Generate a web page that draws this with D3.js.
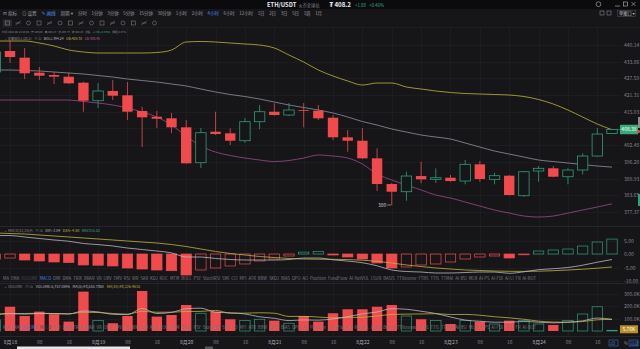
<!DOCTYPE html>
<html><head><meta charset="utf-8">
<script src="https://cdn.jsdelivr.net/npm/d3@7/dist/d3.min.js"></script>
<style>
html,body{margin:0;padding:0;background:#151518;overflow:hidden;}
svg{display:block;}
text{font-family:"Noto Sans CJK SC","Noto Sans","DejaVu Sans",sans-serif;}
</style></head><body>
<svg id="chart" width="640" height="349"></svg>
<script>
// ---------------- data (index -1 .. 41, 4h candles, 2020-08-17 20:00 .. 2020-08-24 20:00) ----------------
const candleIndex = d3.range(-1, 42);
const opens  = [429.99,437.88,435.37,429.73,428.86,428.22,425.97,419.20,422.85,421.23,415.33,413.18,412.58,409.20,395.89,407.55,406.94,404.16,411.31,415.06,413.82,415.70,415.44,412.81,405.44,404.16,397.55,387.88,384.99,390.89,389.65,390.25,389.01,395.29,389.65,391.01,383.49,392.77,393.79,390.63,393.15,398.41,406.89];
const highs  = [439.01,442.02,439.01,431.87,429.99,429.73,426.34,425.85,426.98,426.23,416.94,415.33,414.58,411.94,408.94,415.06,408.82,412.70,417.58,418.22,418.34,418.34,417.58,413.82,408.19,408.94,401.30,388.26,392.51,396.27,393.79,391.27,396.91,396.53,392.13,391.27,392.77,394.65,394.65,393.79,399.43,408.94,408.40];
const lows   = [426.98,433.37,427.36,426.98,425.48,425.50,415.06,416.46,419.46,411.94,401.79,408.94,407.06,395.50,393.90,406.31,402.55,403.41,408.45,413.60,413.45,409.20,411.94,404.43,400.03,397.30,385.25,380.00,381.61,388.15,388.26,388.75,387.77,388.75,387.77,383.60,383.11,388.75,390.40,387.77,391.53,398.20,406.77];
const closes = [437.51,435.63,429.50,428.60,428.22,425.74,419.20,422.85,421.08,415.06,412.96,412.43,409.20,395.67,407.17,406.68,404.16,411.31,415.06,413.82,415.70,415.44,412.58,405.44,404.16,397.55,387.88,384.99,390.89,389.65,390.25,389.01,395.29,389.76,391.01,383.75,392.51,393.79,390.63,393.15,398.41,406.68,408.38];
const bollMid = [430.74,430.74,430.55,430.37,429.99,429.61,429.24,428.67,428.11,427.36,426.79,426.23,425.48,424.73,423.60,422.47,421.53,420.78,419.84,418.71,417.58,416.64,415.70,414.58,413.07,411.38,410.06,408.56,407.43,406.31,405.55,404.80,403.30,401.79,400.29,399.16,398.03,396.91,396.34,395.78,395.22,394.65,394.24];
const bollUp  = [441.64,441.64,441.64,440.89,439.76,438.26,437.51,437.13,437.13,437.13,437.13,437.32,438.26,441.27,441.46,441.27,440.89,440.52,440.14,439.01,436.38,433.75,430.74,428.49,426.61,425.10,425.85,425.85,424.35,423.60,422.85,422.28,421.91,421.72,421.53,421.34,420.78,419.65,417.96,415.70,413.07,410.44,408.30];
const bollLow = [419.46,419.46,419.46,419.46,419.46,419.46,418.90,418.34,417.58,416.46,414.95,413.07,410.06,405.93,402.17,399.91,398.60,397.66,396.91,396.34,396.72,397.66,398.79,398.41,397.66,395.40,391.64,389.39,387.51,385.63,383.75,382.62,381.12,379.61,378.11,376.98,375.85,375.48,375.85,376.98,378.11,379.24,380.45];
const macdHist = [-1.9,-1.5,-2.22,-2.59,-2.96,-3.15,-4.07,-4.15,-4.44,-5.19,-5.56,-5.93,-6.19,-7.78,-5.93,-5.19,-4.44,-3.70,-2.59,-1.85,-0.74,0.7,0.9,-0.37,-1.11,-1.85,-3.33,-5.19,-4.81,-4.07,-3.70,-2.96,-1.85,-1.11,-0.74,-1.48,-0.3,1.11,1.48,1.85,2.96,4.44,5.52];
const macdDif  = [6.83,6.84,6.30,5.74,5.19,4.72,3.89,3.48,2.97,2.21,1.66,1.10,0.42,-1.11,-1.12,-1.67,-2.03,-2.22,-2.23,-2.23,-2.04,-1.50,-1.48,-2.15,-2.63,-3.23,-4.37,-5.93,-6.48,-6.67,-7.04,-7.04,-6.86,-6.67,-6.67,-7.15,-6.59,-5.81,-5.45,-5.00,-4.15,-3.04,-2.04];
const macdDea  = [7.78,7.59,7.41,7.04,6.67,6.30,5.93,5.56,5.19,4.81,4.44,4.07,3.52,2.78,1.85,0.93,0.19,-0.37,-0.93,-1.30,-1.67,-1.85,-1.93,-1.96,-2.07,-2.30,-2.70,-3.33,-4.07,-4.63,-5.19,-5.56,-5.93,-6.11,-6.30,-6.41,-6.44,-6.37,-6.19,-5.93,-5.63,-5.26,-4.80];
const volumes  = [90,194,120,155,134,75,315,83,62,120,320,115,128,208,142,155,94,83,94,83,62,120,75,142,174,174,194,208,120,94,83,56,83,75,56,83,83,56,48,83,136,194,5.76];
const volMa5   = [130,140,135,140,138.6,135.6,159.8,152.4,133.8,131,180,140,149,178.2,182.6,149.6,145.4,136.4,113.6,101.8,83.2,88.4,86.8,96.4,114.6,137,151.8,178.4,174,158,139.8,112.2,87.2,78.2,70.6,70.6,76,70.6,65.2,70.6,81.2,103.4,93.5];
const volMa10  = [135,138,140,142,140,138,150,148,140,134.8,157.8,149.9,150.7,156,156.8,164.8,142.7,142.7,145.9,142.2,116.4,116.9,111.6,105,108.2,110.1,120.1,132.6,135.2,136.3,138.4,132,132.8,126.1,114.3,105.2,94.1,78.9,71.7,70.6,75.9,89.7,93.2];

const priceTicks = [440.14,433.86,427.59,421.31,415.03,408.76,402.48,396.20,389.93,383.65,377.37];
const macdTicks = [5,0,-5,-10];
const macdTickLabels = ["5.00","0.00","-5.00","-10.00"];
const volTicks = [300,200,100];
const volTickLabels = ["300.0K","200.0K","100.0K"];
const timeTickIndex = d3.range(0,41,2);
const timeLabels = ["8月18","08","16","8月19","08","16","8月20","08","16","8月21","08","16","8月22","08","16","8月23","08","16","8月24","08","16"];
const periods = ["分时","1分钟","3分钟","5分钟","15分钟","30分钟","1小时","2小时","4小时","6小时","12小时","1日","2日","3日","5日","1周","1月"];
const activePeriod = "4小时";
const indicators = ["MA","EMA","VOLUME","MACD","DMI","DMA","TRIX","BRAR","VR","OBV","EMV","RSI","WR","SAR","KDJ","ROC","MTM","BOLL","PSY","StochRSI","SMI","CCI","MFI","ATR","BBW","SKDJ","BIAS","DPO","AO","Position","FundFlow","AI-NetVOL","LSUR","BASIS","TTVolume","FTBS","TTIS","TTMAI","AI-BSI","MLB","AI-PS","AI-FDI","AI-LI","FR","AI-BOT"];
const lastPrice = 408.38;
const headerPrice = "408.2";
const lowMarkLabel = "380";

// ---------------- styles ----------------
const BG="#161619", BAR="#0b0b0d", GRID="#222227", TXT="#85858f", RED="#f04a4c", GREEN="#2f9e78",
      YEL="#c2b23c", MID="#8f909e", PUR="#9c4a8c", WHITE="#b9b9c2", BLUE="#3f7fe0";
const LATIN='"Noto Sans","DejaVu Sans",sans-serif';

const svg = d3.select("#chart");
const defs = svg.append("defs");
function clip(id,x,y,w,h){defs.append("clipPath").attr("id",id).append("rect").attr("x",x).attr("y",y).attr("width",w).attr("height",h);}
clip("cMain",0,27,620,199); clip("cMacd",0,227,620,56); clip("cVol",0,284,620,52);

svg.append("rect").attr("width",640).attr("height",349).attr("fill",BG);
svg.append("rect").attr("width",640).attr("height",9).attr("fill",BAR);

const xs = d3.scaleLinear().domain([0,41]).range([10,612]);
const yP = d3.scaleLinear().domain([377.37,440.14]).range([212,45]);
const yM = d3.scaleLinear().domain([-10,5]).range([281,240.5]);
const yV = d3.scaleLinear().domain([0,300]).range([331,293.5]);

const cd = candleIndex.map((i,k)=>({i,o:opens[k],h:highs[k],l:lows[k],c:closes[k],v:volumes[k],m:macdHist[k],pm:k>0?macdHist[k-1]:null}));
const up = d=>d.c>=d.o;

// ---------------- grid ----------------
const grid = svg.append("g");
grid.selectAll("line.v").data(timeTickIndex).join("line")
  .attr("x1",d=>Math.round(xs(d))+0.5).attr("x2",d=>Math.round(xs(d))+0.5).attr("y1",27).attr("y2",336)
  .attr("stroke",GRID).attr("stroke-width",0.6);
grid.selectAll("line.hp").data(priceTicks).join("line")
  .attr("x1",0).attr("x2",620).attr("y1",d=>Math.round(yP(d))+0.5).attr("y2",d=>Math.round(yP(d))+0.5)
  .attr("stroke",GRID).attr("stroke-width",0.6);
grid.selectAll("line.hm").data(macdTicks).join("line")
  .attr("x1",0).attr("x2",620).attr("y1",d=>Math.round(yM(d))+0.5).attr("y2",d=>Math.round(yM(d))+0.5)
  .attr("stroke",GRID).attr("stroke-width",0.6);
grid.selectAll("line.hv").data(volTicks).join("line")
  .attr("x1",0).attr("x2",620).attr("y1",d=>Math.round(yV(d))+0.5).attr("y2",d=>Math.round(yV(d))+0.5)
  .attr("stroke",GRID).attr("stroke-width",0.6);
[226.5,283.5,336.5].forEach(y=>svg.append("line").attr("x1",0).attr("x2",640).attr("y1",y).attr("y2",y).attr("stroke","#2a2a30").attr("stroke-width",0.8));
svg.append("line").attr("x1",0).attr("x2",640).attr("y1",27.5).attr("y2",27.5).attr("stroke","#222227").attr("stroke-width",0.6);

// ---------------- main pane ----------------
const main = svg.append("g").attr("clip-path","url(#cMain)");
const lineP = arr => d3.line().x((d,k)=>xs(candleIndex[k])).y(d=>yP(d)).curve(d3.curveMonotoneX)(arr);
[[bollUp,YEL],[bollMid,MID],[bollLow,PUR]].forEach(([a,c])=>main.append("path").attr("d",lineP(a)).attr("fill","none").attr("stroke",c).attr("stroke-width",0.8));
const BW=10.4;
main.selectAll("line.w").data(cd).join("line")
  .attr("x1",d=>xs(d.i)).attr("x2",d=>xs(d.i)).attr("y1",d=>yP(d.h)).attr("y2",d=>yP(d.l))
  .attr("stroke",d=>up(d)?GREEN:RED).attr("stroke-width",0.8);
main.selectAll("rect.b").data(cd).join("rect")
  .attr("x",d=>xs(d.i)-BW/2).attr("width",BW)
  .attr("y",d=>yP(Math.max(d.o,d.c))).attr("height",d=>Math.max(0.8,Math.abs(yP(d.o)-yP(d.c))))
  .attr("fill",d=>up(d)?BG:RED).attr("stroke",d=>up(d)?GREEN:"none").attr("stroke-width",0.8);
// low marker
const lowK = lows.indexOf(d3.min(lows));
main.append("line").attr("x1",xs(candleIndex[lowK])-4.5).attr("x2",xs(candleIndex[lowK])-0.5)
  .attr("y1",yP(lows[lowK])).attr("y2",yP(lows[lowK])).attr("stroke","#c8c8d0").attr("stroke-width",0.6);
main.append("text").attr("x",xs(candleIndex[lowK])-5.5).attr("y",yP(lows[lowK])+1.8).attr("text-anchor","end")
  .attr("font-size",5).attr("font-family",LATIN).attr("fill","#c8c8d0").text(lowMarkLabel);
// last price line
svg.append("line").attr("x1",xs(41)+5).attr("x2",620).attr("y1",yP(lastPrice)).attr("y2",yP(lastPrice)).attr("stroke",GREEN).attr("stroke-width",0.6);

// price axis (the tick hidden under the price tag is not printed)
const pAx = svg.append("g").attr("transform","translate(624,0)")
  .call(d3.axisRight(yP).tickValues(priceTicks.filter(t=>Math.abs(yP(t)-yP(lastPrice))>7)).tickSize(0).tickFormat(d=>d.toFixed(2)));
pAx.select(".domain").remove();
pAx.selectAll("text").attr("fill",TXT).attr("font-size",5).attr("x",0).attr("font-family",LATIN);
svg.append("rect").attr("x",620).attr("y",yP(lastPrice)-4.8).attr("width",18).attr("height",9.6).attr("fill","#3caa78").attr("rx",0.5);
svg.append("text").attr("x",629).attr("y",yP(lastPrice)+1.8).attr("text-anchor","middle").attr("font-size",5).attr("font-family",LATIN).attr("fill","#fff").text(lastPrice.toFixed(2));
svg.append("rect").attr("x",638).attr("y",117).attr("width",2).attr("height",11).attr("fill","#8a8a92");
svg.append("circle").attr("cx",638.6).attr("cy",yP(lastPrice)+2).attr("r",1.5).attr("fill",RED);
svg.append("rect").attr("x",638).attr("y",194).attr("width",2).attr("height",12).attr("fill","#2f9e78");

// ---------------- MACD pane ----------------
const mg = svg.append("g").attr("clip-path","url(#cMacd)");
mg.selectAll("rect.m").data(cd).join("rect")
  .attr("x",d=>xs(d.i)-BW/2).attr("width",BW)
  .attr("y",d=>yM(Math.max(d.m,0))).attr("height",d=>Math.max(0.6,Math.abs(yM(d.m)-yM(0))))
  .attr("fill",d=>(d.pm!==null && d.m<d.pm)?(d.m<0?RED:GREEN):"none")
  .attr("stroke",d=>d.m<0?RED:GREEN).attr("stroke-width",0.7);
const lineM = arr => d3.line().x((d,k)=>xs(candleIndex[k])).y(d=>yM(d)).curve(d3.curveMonotoneX)(arr);
mg.append("path").attr("d",lineM(macdDea)).attr("fill","none").attr("stroke",YEL).attr("stroke-width",0.8);
mg.append("path").attr("d",lineM(macdDif)).attr("fill","none").attr("stroke",WHITE).attr("stroke-width",0.8);
const mAx = svg.append("g").attr("transform","translate(624,0)")
  .call(d3.axisRight(yM).tickValues(macdTicks).tickSize(0).tickFormat((d,i)=>macdTickLabels[i]));
mAx.select(".domain").remove();
mAx.selectAll("text").attr("fill",TXT).attr("font-size",5).attr("x",0).attr("font-family",LATIN);

// ---------------- Volume pane ----------------
const vg = svg.append("g").attr("clip-path","url(#cVol)");
vg.selectAll("rect.v").data(cd).join("rect")
  .attr("x",d=>xs(d.i)-BW/2).attr("width",BW)
  .attr("y",d=>yV(d.v)).attr("height",d=>Math.max(0.6,yV(0)-yV(d.v)))
  .attr("fill",d=>up(d)?"none":RED).attr("stroke",d=>up(d)?GREEN:"none").attr("stroke-width",0.7);
const lineV = arr => d3.line().x((d,k)=>xs(candleIndex[k])).y(d=>yV(d)).curve(d3.curveMonotoneX)(arr);
vg.append("path").attr("d",lineV(volMa10)).attr("fill","none").attr("stroke",YEL).attr("stroke-width",0.8);
vg.append("path").attr("d",lineV(volMa5)).attr("fill","none").attr("stroke",WHITE).attr("stroke-width",0.8);
const vAx = svg.append("g").attr("transform","translate(624,0)")
  .call(d3.axisRight(yV).tickValues(volTicks).tickSize(0).tickFormat((d,i)=>volTickLabels[i]));
vAx.select(".domain").remove();
vAx.selectAll("text").attr("fill",TXT).attr("font-size",5).attr("x",0).attr("font-family",LATIN);
svg.append("rect").attr("x",620).attr("y",yV(volumes[42])-5).attr("width",18).attr("height",8).attr("fill","#b88f27");
svg.append("text").attr("x",629).attr("y",yV(volumes[42])+1).attr("text-anchor","middle").attr("font-size",4.8).attr("font-family",LATIN).attr("fill","#fff").text(volumes[42].toFixed(2)+"K");

// ---------------- time axis ----------------
const tAx = svg.append("g").attr("transform","translate(0,338)")
  .call(d3.axisBottom(xs).tickValues(timeTickIndex).tickSize(0).tickFormat((d,i)=>timeLabels[i]));
tAx.select(".domain").remove();
tAx.selectAll("text").attr("fill",(d,i)=>timeLabels[i].includes("月")?"#b0b0b8":TXT).attr("font-size",5).attr("dy","0.6em");
svg.append("rect").attr("x",17).attr("y",346.5).attr("width",113).attr("height",2.5).attr("fill","#e6e6ea");
svg.append("rect").attr("x",205).attr("y",346.5).attr("width",8).attr("height",2.5).attr("fill","#55555c");
// bottom-right buttons
[["1D",610,BLUE],["%",624,null],["自动",630,BLUE]].forEach(([t,x,c])=>{
  if(c) svg.append("rect").attr("x",x-1).attr("y",340).attr("width",t.length>1?9:6).attr("height",6).attr("fill","none").attr("stroke",c).attr("stroke-width",0.5);
  svg.append("text").attr("x",x).attr("y",344.6).attr("font-size",4.2).attr("fill",c||TXT).text(t);
});

// ---------------- layout helper: a row of separate texts fitted to a width ----------------
function row(x0, y, items, width, size, minGap, family){
  const g = svg.append("g");
  const ts = g.selectAll("text").data(items).join("text").attr("y",y)
    .attr("fill",d=>d[1]).text(d=>d[0]);
  if(family) ts.attr("font-family",family);
  let fs=size, widths, gap;
  do {
    ts.attr("font-size",fs);
    widths = ts.nodes().map(n=>n.getComputedTextLength());
    gap = (width - d3.sum(widths))/Math.max(1,items.length-1);
    fs -= 0.1;
  } while(gap < minGap && fs > 2.5);
  let x=x0; ts.each(function(d,i){ d3.select(this).attr("x",x); x += widths[i]+gap; });
}
// a row laid out left to right with fixed spacing (own widths)
function flow(x0, y, items){
  let x=x0;
  items.forEach(([s,c,fs,bold,fam,gap])=>{
    const t=svg.append("text").attr("x",x).attr("y",y).attr("font-size",fs).attr("fill",c).text(s);
    if(bold) t.attr("font-weight","bold");
    if(fam) t.attr("font-family",fam);
    x += t.node().getComputedTextLength() + gap;
  });
}

// indicator rows
row(3,279.5,indicators.map(d=>[d,d==="MACD"?BLUE:(d==="VOLUME"?"#4a4a52":"#7a7a84")]),533,4.2,1.6,LATIN);
row(3,328.5,indicators.map(d=>[d,d==="VOLUME"?BLUE:(d==="MACD"?"#4a4a52":"#7a7a84")]),533,4.2,1.6,LATIN);

// title bar
flow(267,6.8,[["ETH/USDT","#e8e8ee",5.8,true,LATIN,2.2],["火币全球站","#8a8a92",4.2,false,null,10],
  ["₮ "+headerPrice,"#e8e8ee",6.2,true,LATIN,4],["+1.88","#35b07f",4.4,false,LATIN,3],["+0.46%","#35b07f",4.4,false,LATIN,0]]);
svg.append("circle").attr("cx",598.5).attr("cy",4.2).attr("r",2.4).attr("fill","none").attr("stroke","#bbb").attr("stroke-width",0.6);
svg.append("line").attr("x1",615).attr("x2",620).attr("y1",6).attr("y2",6).attr("stroke","#bbb").attr("stroke-width",0.6);
svg.append("rect").attr("x",623.5).attr("y",2).attr("width",4).attr("height",4).attr("fill","none").attr("stroke","#bbb").attr("stroke-width",0.6);
svg.append("path").attr("d","M631.5,2L635.5,6M635.5,2L631.5,6").attr("stroke","#bbb").attr("stroke-width",0.6);

// toolbar row
row(3,15,[["⊟ 指标","#9a9aa2"],["⊙ 设置","#9a9aa2"],["✎ 画线","#4d8be8"],["周期 ▾","#9a9aa2"]],70,4.6,3);
row(78,15,periods.map(d=>[d,d===activePeriod?"#4d8be8":"#9a9aa2"]),244,4.4,2);
svg.append("rect").attr("x",600).attr("y",11).attr("width",4).attr("height",4).attr("fill","none").attr("stroke","#9a9aa2").attr("stroke-width",0.5);
svg.append("rect").attr("x",607).attr("y",11).attr("width",4).attr("height",4).attr("fill","none").attr("stroke","#9a9aa2").attr("stroke-width",0.5);
svg.append("rect").attr("x",617.5).attr("y",10.5).attr("width",18).attr("height",6).attr("fill","none").attr("stroke","#55555c").attr("stroke-width",0.5);
svg.append("text").attr("x",619).attr("y",15).attr("font-size",4.2).attr("fill","#c0c0c8").text("单图口 ▾");

// drawing tools row (simple glyph shapes)
svg.append("rect").attr("x",3).attr("y",19.5).attr("width",9).attr("height",7).attr("fill","#2a2a30");
d3.range(15).forEach(i=>{
  const cx=7.5+i*10.5, g=svg.append("g").attr("stroke","#8a8a94").attr("stroke-width",0.5).attr("fill","none");
  if(i%3===0) g.append("rect").attr("x",cx-2).attr("y",21).attr("width",4).attr("height",4);
  else if(i%3===1) g.append("path").attr("d",`M${cx-2.5},25L${cx+2.5},21M${cx-2.5},23H${cx+2.5}`);
  else g.append("circle").attr("cx",cx).attr("cy",23).attr("r",2);
});

// info rows
row(2,33,[["时间 2020-08-24 20:00",TXT],["开 406.89",TXT],["高 408.27",TXT],["低 406.77",TXT],["收 408.25",TXT],["涨跌",TXT],["+1.36(+0.33%)","#35b07f"],["振幅 0.37%",TXT]],124,4.0,1.8);
row(4,39.6,[["⌄ 主图BOLL(20,2)",TXT],["⊙ ⊡",TXT],["BOLL:394.24","#b8b8c0"],["UB:408.30",YEL],["LB:380.45","#b45aa4"]],96,4.0,2);
row(4,231.5,[["⌄ MACD(12,26,9)",TXT],["⊙ ⊡",TXT],["DIF:-2.04","#b8b8c0"],["DEA:-4.80",YEL],["MACD:5.52","#35b07f"]],96,4.2,2);
row(4,288,[["⌄ VOLUME",TXT],["⊙ ⊡",TXT],["VOLUME:5,757.0896","#b8b8c0"],["MA(5):93,516.7360","#b8b8c0"],["MA(10):93,226.4615",YEL]],136,4.2,2);
</script>
</body></html>
